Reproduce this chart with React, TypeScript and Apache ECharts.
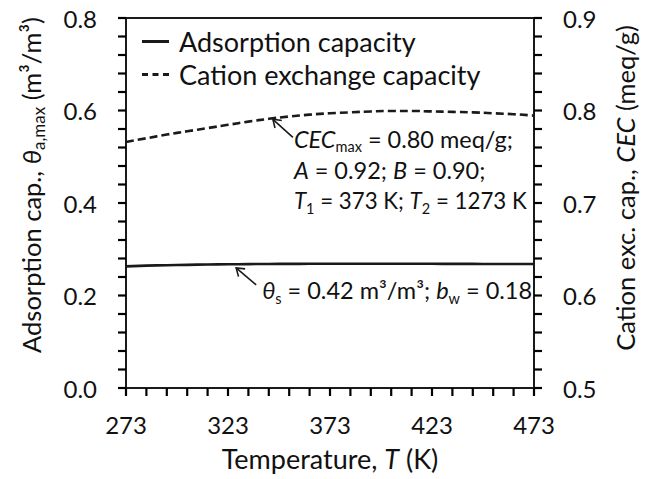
import React, { useEffect, useRef } from "react";
import * as echarts from "echarts";

// ---- data ----
const temperatures = [273, 283, 293, 303, 313, 323, 333, 343, 353, 363, 373, 383, 393, 403, 413, 423, 433, 443, 453, 463, 473];
const adsorptionCapacity = [0.263, 0.2645, 0.2655, 0.2663, 0.267, 0.2675, 0.2679, 0.2682, 0.2684, 0.2685, 0.2686, 0.2686, 0.2686, 0.2686, 0.2685, 0.2685, 0.2684, 0.2683, 0.2682, 0.2681, 0.268];
const cationExchangeCapacity = [0.766, 0.770, 0.774, 0.7775, 0.781, 0.7845, 0.788, 0.791, 0.7935, 0.7955, 0.797, 0.798, 0.799, 0.7995, 0.7995, 0.799, 0.7985, 0.798, 0.797, 0.796, 0.7945];
const xTickRange = { min: 273, max: 473, interval: 50, minorStep: 10 };
const leftTickRange = { min: 0, max: 0.8, interval: 0.2, minorStep: 0.04 };
const rightTickRange = { min: 0.5, max: 0.9, interval: 0.1, minorStep: 0.02 };
const seriesNames = ["Adsorption capacity", "Cation exchange capacity"];

// annotation anchors (data coordinates of arrow tips)
const cecNoteAnchor: [number, number] = [345, 0.7905];
const thetaNoteAnchor: [number, number] = [327, 0.2595];

const FONT = "Lato";
const INK = "#1a1a1a";

function tickValues(r: { min: number; max: number; minorStep: number }) {
  const out: number[] = [];
  const n = Math.round((r.max - r.min) / r.minorStep);
  for (let k = 0; k <= n; k++) out.push(r.min + k * r.minorStep);
  return out;
}

function arrow(tip: number[], tail: number[]) {
  const dx = tip[0] - tail[0];
  const dy = tip[1] - tail[1];
  const ang = Math.atan2(dy, dx);
  const len = 9;
  const spread = 0.6;
  const w1 = [tip[0] - len * Math.cos(ang - spread), tip[1] - len * Math.sin(ang - spread)];
  const w2 = [tip[0] - len * Math.cos(ang + spread), tip[1] - len * Math.sin(ang + spread)];
  return [
    { type: "polyline", shape: { points: [tail, tip] }, style: { stroke: INK, lineWidth: 1.6, fill: null } },
    { type: "polyline", shape: { points: [w1, tip, w2] }, style: { stroke: INK, lineWidth: 1.6, fill: null } },
  ];
}

export default function App() {
  const ref = useRef<HTMLDivElement>(null);
  useEffect(() => {
    if (!ref.current) return;
    const chart = echarts.init(ref.current, null, { renderer: "svg" });
    const mkAxisLine = () => ({ show: true, onZero: false, lineStyle: { color: INK, width: 2 } });
    const labelStyle = { fontFamily: FONT, fontSize: 24, color: "#111" };
    const mkRich = (size: number) => ({
      n: { fontFamily: FONT, fontSize: size, color: "#111", lineHeight: 32 },
      i: { fontFamily: FONT, fontSize: size, color: "#111", fontStyle: "italic", lineHeight: 32 },
      sub: { fontFamily: FONT, fontSize: Math.round(size * 0.65), color: "#111", verticalAlign: "bottom", lineHeight: 19 },
    });
    const option: any = {
      animation: false,
      backgroundColor: "#fff",
      grid: { left: 126, right: 114, top: 18, bottom: 91, show: true, borderColor: INK, borderWidth: 2, backgroundColor: "transparent" },
      legend: {
        orient: "vertical",
        left: 137,
        top: 23,
        itemWidth: 27,
        itemHeight: 3,
        itemGap: 6,
        textStyle: { fontFamily: FONT, fontSize: 27, color: "#111", padding: [0, 0, 0, 5] },
        data: [
          { name: seriesNames[0], icon: "path://M0 0H27V3H0Z" },
          { name: seriesNames[1], icon: "path://M0 0H6V3H0ZM10.5 0H16.5V3H10.5ZM21 0H27V3H21Z" },
        ],
      },
      xAxis: {
        type: "value",
        min: xTickRange.min,
        max: xTickRange.max,
        interval: xTickRange.interval,
        axisLine: mkAxisLine(),
        axisTick: { show: false },
        minorTick: { show: false },
        splitLine: { show: false },
        axisLabel: { ...labelStyle, margin: 24 },
        name: "{n|Temperature, }{i|T}{n| (K)}",
        nameLocation: "middle",
        nameGap: 54,
        nameTextStyle: { rich: mkRich(27) },
      },
      yAxis: [
        {
          type: "value",
          min: leftTickRange.min,
          max: leftTickRange.max,
          interval: leftTickRange.interval,
          axisLine: mkAxisLine(),
          axisTick: { show: false },
          minorTick: { show: false },
          splitLine: { show: false },
          axisLabel: { ...labelStyle, margin: 29, formatter: (v: number) => v.toFixed(1) },
          name: "{n|Adsorption cap., }{i|θ}{sub|a,max}{n| (m³/m³)}",
          nameLocation: "middle",
          nameGap: 79,
          nameRotate: 90,
          nameTextStyle: { rich: mkRich(25.5), padding: [0, 0, 0, 36] },
        },
        {
          type: "value",
          position: "right",
          min: rightTickRange.min,
          max: rightTickRange.max,
          interval: rightTickRange.interval,
          axisLine: mkAxisLine(),
          axisTick: { show: false },
          minorTick: { show: false },
          splitLine: { show: false },
          axisLabel: { ...labelStyle, margin: 29, formatter: (v: number) => v.toFixed(1) },
          name: "{n|Cation exc. cap., }{i|CEC}{n| (meq/g)}",
          nameLocation: "middle",
          nameGap: 75,
          nameRotate: 90,
          nameTextStyle: { rich: mkRich(25.5), padding: [0, 0, 0, 30] },
        },
      ],
      series: [
        {
          name: seriesNames[0],
          type: "line",
          yAxisIndex: 0,
          symbol: "none",
          smooth: true,
          lineStyle: { color: INK, width: 2.6, type: "solid" },
          itemStyle: { color: INK },
          data: temperatures.map((t, k) => [t, adsorptionCapacity[k]]),
        },
        {
          name: seriesNames[1],
          type: "line",
          yAxisIndex: 1,
          symbol: "none",
          smooth: true,
          lineStyle: { color: INK, width: 2.6, type: [8, 4] },
          itemStyle: { color: INK },
          data: temperatures.map((t, k) => [t, cationExchangeCapacity[k]]),
        },
      ],
    };
    chart.setOption(option);

    // ticks placed through the library's scales
    const TICK = 8;
    const xLeft = chart.convertToPixel({ xAxisIndex: 0 }, xTickRange.min) as number;
    const xRight = chart.convertToPixel({ xAxisIndex: 0 }, xTickRange.max) as number;
    const yBottom = chart.convertToPixel({ yAxisIndex: 0 }, leftTickRange.min) as number;
    const tick = (a: number[], b: number[]) => ({
      type: "polyline",
      zlevel: 1,
      z: 100,
      shape: { points: [a, b] },
      style: { stroke: "#000", lineWidth: 2.2, fill: null },
    });
    const ticks: any[] = [];
    tickValues(xTickRange).forEach((v) => {
      const px = chart.convertToPixel({ xAxisIndex: 0 }, v) as number;
      ticks.push(tick([px, yBottom], [px, yBottom + TICK]));
    });
    tickValues(leftTickRange).forEach((v) => {
      const py = chart.convertToPixel({ yAxisIndex: 0 }, v) as number;
      ticks.push(tick([xLeft, py], [xLeft - TICK, py]));
    });
    tickValues(rightTickRange).forEach((v) => {
      const py = chart.convertToPixel({ yAxisIndex: 1 }, v) as number;
      ticks.push(tick([xRight, py], [xRight + TICK, py]));
    });

    const big = 23.5;
    const small = 22.3;
    const annRich = {
      n: { fontFamily: FONT, fontSize: big, fill: "#111", lineHeight: 31 },
      i: { fontFamily: FONT, fontSize: big, fill: "#111", fontStyle: "italic", lineHeight: 31 },
      n3: { fontFamily: FONT, fontSize: small, fill: "#111", lineHeight: 31 },
      i3: { fontFamily: FONT, fontSize: small, fill: "#111", fontStyle: "italic", lineHeight: 31 },
      sub: { fontFamily: FONT, fontSize: 14.5, fill: "#111", verticalAlign: "bottom", lineHeight: 16 },
    };
    const tip1 = chart.convertToPixel({ seriesIndex: 1 }, cecNoteAnchor) as number[];
    const tip2 = chart.convertToPixel({ seriesIndex: 0 }, thetaNoteAnchor) as number[];
    const tail1 = [tip1[0] + 20, tip1[1] + 18];
    const tail2 = [tip2[0] + 20, tip2[1] + 17];
    chart.setOption({
      graphic: [
        ...ticks,
        ...arrow(tip1, tail1),
        ...arrow(tip2, tail2),
        {
          type: "text",
          x: tail1[0] + 1,
          y: tail1[1] - 14,
          style: {
            text: "{i|CEC}{sub|max}{n| = 0.80 meq/g;}\n{i|A}{n| = 0.92; }{i|B}{n| = 0.90;}\n{i3|T}{sub|1}{n3| = 373 K; }{i3|T}{sub|2}{n3| = 1273 K}",
            rich: annRich,
            fontFamily: FONT,
            fontSize: big,
            fill: "#111",
            align: "left",
            verticalAlign: "top",
          },
        },
        {
          type: "text",
          x: tail2[0] + 6,
          y: tail2[1] - 10,
          style: {
            text: "{i|θ}{sub|s}{n| = 0.42 m³/m³; }{i|b}{sub|w}{n| = 0.18}",
            rich: annRich,
            fontFamily: FONT,
            fontSize: big,
            fill: "#111",
            align: "left",
            verticalAlign: "top",
          },
        },
      ],
    });
    return () => chart.dispose();
  }, []);
  return <div ref={ref} style={{ position: "fixed", left: 0, top: 0, width: 648, height: 479 }} />;
}
